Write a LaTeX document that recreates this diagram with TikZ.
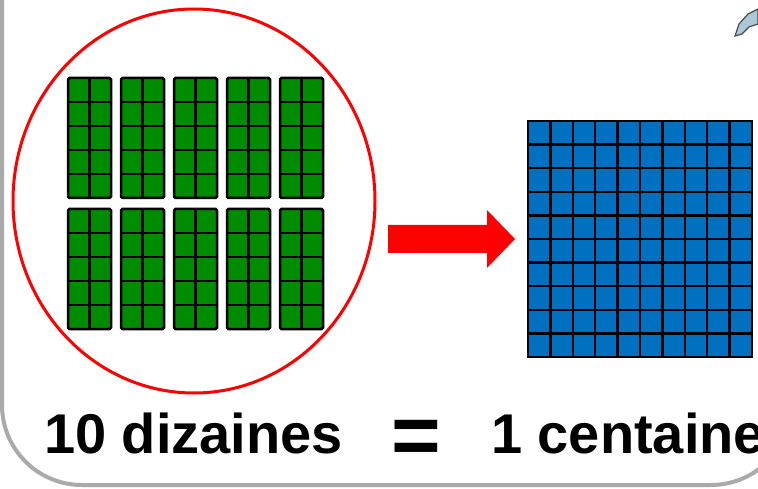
\documentclass[tikz,border=0pt]{standalone}
\usepackage{fontspec}
\setmainfont{Liberation Sans}
\usetikzlibrary{shapes.geometric}
\definecolor{tengreen}{RGB}{0,140,0}
\definecolor{hundblue}{RGB}{0,112,192}
\definecolor{framegray}{RGB}{170,170,170}
\definecolor{iconblue}{RGB}{170,200,215}
\tikzset{
  barbox/.style={draw=black, line width=2.5, fill=tengreen, rounded corners=1.5, minimum width=43, minimum height=120, inner sep=0, outer sep=0},
  cellline/.style={draw=black, line width=2.5},
  bigtext/.style={font=\fontsize{56}{62}\selectfont\bfseries, inner sep=0, anchor=base west},
}
\begin{document}
\begin{tikzpicture}[x=1pt,y=-1pt]
\useasboundingbox (0,0) rectangle (758,489);
\clip (0,0) rectangle (758,489);
% frame
\draw[framegray, line width=4, rounded corners=80] (2,-120) -- (2,485) -- (791,485) -- (791,-120);
% circle grouping
\node[draw=red, line width=3, ellipse, minimum width=362, minimum height=384, inner sep=0] (group) at (194,201) {};
% ten bars
\foreach \i in {0,...,4} {
  \foreach \r in {0,1} {
    \pgfmathsetmacro{\xo}{68+53*\i}
    \pgfmathsetmacro{\yo}{78+131*\r}
    \node[barbox] (bar\i\r) at (\xo+21.5,\yo+60) {};
    \draw[cellline] (bar\i\r.north) -- (bar\i\r.south);
    \foreach \k in {1,...,4} {
      \draw[cellline] (\xo,\yo+24*\k) -- (\xo+43,\yo+24*\k);
    }
  }
}
% hundred square
\node[draw=black, line width=2.5, fill=hundblue, minimum width=224, minimum height=236, inner sep=0] (hundred) at (640,239) {};
\foreach \k in {1,...,9} {
  \draw[cellline] (528+22.4*\k,121) -- (528+22.4*\k,357);
  \draw[cellline] (528,121+23.6*\k) -- (752,121+23.6*\k);
}
% arrow
\fill[red] (388,225) -- (487,225) -- (487,210) -- (515,239) -- (487,268) -- (487,253) -- (388,253) -- cycle;
\coordinate (arrowtip) at (515,239);
% texts
\node[bigtext] (tens) at (44,453) {10 dizaines};
\node[font=\fontsize{85}{90}\selectfont\bfseries, inner sep=0] (equals) at (416,442) {=};
\node[bigtext] (hundredtext) at (491,453) {1 centaine};
% small icon top right
\draw[black!70, fill=iconblue, line width=1.2] (735,36) -- (739,24) -- (748,14) -- (758,9) -- (758,24) -- (749,27) -- (742,34) -- cycle;
\end{tikzpicture}
\end{document}
